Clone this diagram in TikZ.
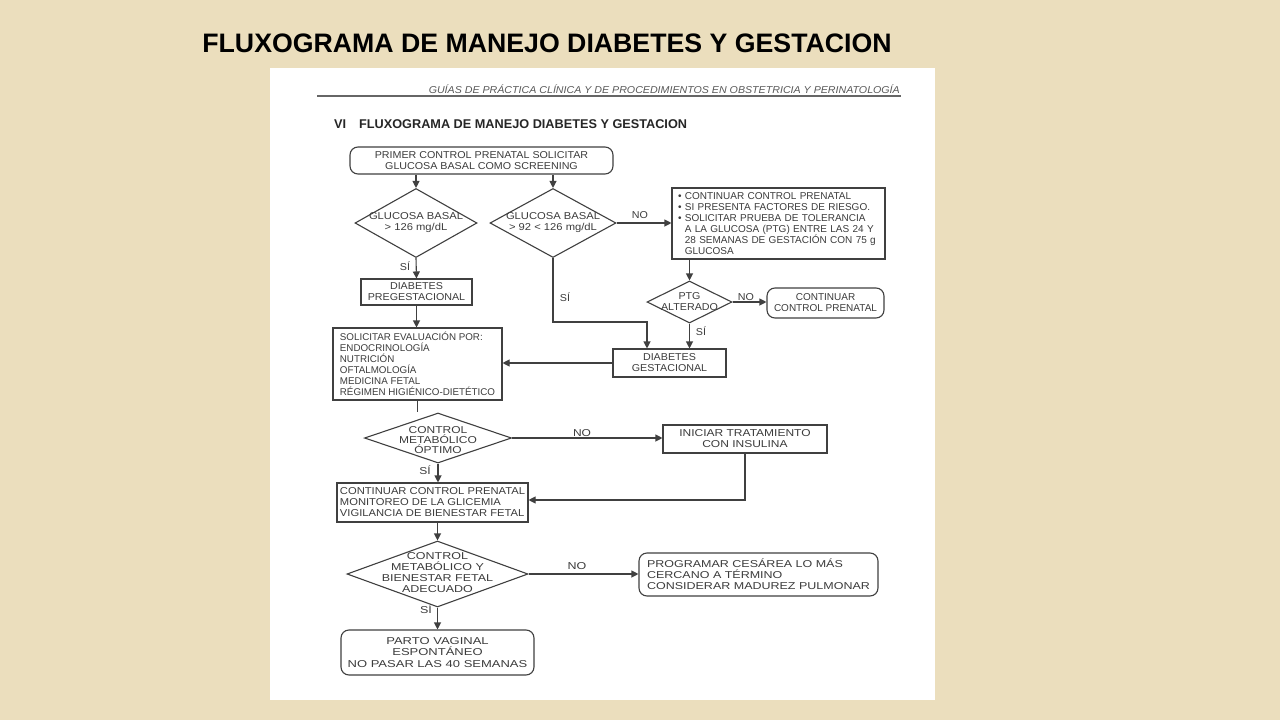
\documentclass[tikz,border=0pt]{standalone}
\usepackage{fontspec}
\setmainfont{Liberation Sans}
\newfontfamily\fsA[FakeStretch=1.07]{Liberation Sans}
\newfontfamily\fsB[FakeStretch=1.12]{Liberation Sans}
\newfontfamily\fsC[FakeStretch=1.2]{Liberation Sans}
\newfontfamily\fsD[FakeStretch=1.25]{Liberation Sans}
\newfontfamily\fsE[FakeStretch=1.3]{Liberation Sans}
\newfontfamily\fsH[FakeStretch=1.065]{Liberation Sans}
\usetikzlibrary{shapes.geometric,arrows.meta}
\definecolor{parch}{RGB}{235,222,189}
\definecolor{ink}{RGB}{60,60,60}
\definecolor{lin}{RGB}{64,64,64}
\tikzset{
  every node/.style={text=ink},
  txt/.style={font=\fontsize{10}{11}\selectfont},
  box/.style={txt, draw=lin, line width=1.1pt, rectangle, inner sep=0pt, align=center},
  rbox/.style={box, rounded corners=8pt},
  dia/.style={draw=lin, line width=1.1pt, shape=diamond, inner sep=0pt},
  dtxt/.style={txt, align=center},
  conn/.style={draw=lin, line width=1.1pt},
  arr/.style={conn, -{Triangle[length=7pt,width=7pt]}},
  lab/.style={txt, inner sep=0pt},
  wA/.style={font=\fsA\fontsize{10}{11}\selectfont},
  wB/.style={font=\fsB\fontsize{10}{11}\selectfont},
  wC/.style={font=\fsC\fontsize{10}{11}\selectfont},
  wD/.style={font=\fsD\fontsize{10}{11}\selectfont},
  wE/.style={font=\fsE\fontsize{10}{11.5}\selectfont},
}
\begin{document}
\begin{tikzpicture}[x=1pt,y=-1pt]
\useasboundingbox (0,0) rectangle (1280,720);
\fill[parch] (0,0) rectangle (1280,720);
\fill[white] (270,68) rectangle (935,700);

% titles
\node[font=\fontsize{26.7}{30}\selectfont\bfseries, text=black] (title) at (547,43) {FLUXOGRAMA DE MANEJO DIABETES Y GESTACION};
\node[font=\fsH\fontsize{10}{11}\selectfont\itshape, text=black!65, anchor=base east, inner sep=0pt] (hdr) at (900,93) {GUÍAS DE PRÁCTICA CLÍNICA Y DE PROCEDIMIENTOS EN OBSTETRICIA Y PERINATOLOGÍA};
\coordinate (hl1) at (317,96);
\coordinate (hl2) at (901,96);
\draw[black!60, line width=1.1pt] (hl1) -- (hl2);
\node[font=\fontsize{12.7}{14}\selectfont\bfseries, text=black!85, anchor=west, inner sep=0pt] (vi) at (334,124) {VI};
\node[font=\fontsize{12.7}{14}\selectfont\bfseries, text=black!85, anchor=west, inner sep=0pt] (vit) at (359,124) {FLUXOGRAMA DE MANEJO DIABETES Y GESTACION};

% nodes
\node[rbox, wA, minimum width=263pt, minimum height=27pt] (start) at (481.5,160.5) {PRIMER CONTROL PRENATAL SOLICITAR\\GLUCOSA BASAL COMO SCREENING};

\node[dia, minimum width=122pt, minimum height=69pt] (d1) at (416,223) {};
\node[dtxt, wB] (d1t) at (d1.center) {GLUCOSA BASAL\\> 126 mg/dL};
\node[dia, minimum width=126pt, minimum height=69pt] (d2) at (553,223) {};
\node[dtxt, wB] (d2t) at (d2.center) {GLUCOSA BASAL\\> 92 < 126 mg/dL};

\node[box, wA, minimum width=111pt, minimum height=26pt] (preg) at (416.5,292) {DIABETES\\PREGESTACIONAL};

\node[box, minimum width=213pt, minimum height=71pt, text width=201pt, align=left, inner xsep=6pt] (bul) at (778.5,223.5) {%
\textbullet\ CONTINUAR CONTROL PRENATAL\\
\textbullet\ SI PRESENTA FACTORES DE RIESGO.\\
\textbullet\ SOLICITAR PRUEBA DE TOLERANCIA\\
\phantom{\textbullet\ }A LA GLUCOSA (PTG) ENTRE LAS 24 Y\\
\phantom{\textbullet\ }28 SEMANAS DE GESTACIÓN CON 75 g\\
\phantom{\textbullet\ }GLUCOSA};

\node[dia, minimum width=85pt, minimum height=42pt] (ptg) at (689.5,302) {};
\node[dtxt, wA] (ptgt) at (ptg.center) {PTG\\ALTERADO};

\node[rbox, minimum width=117pt, minimum height=30pt] (cont2) at (825.5,303) {CONTINUAR\\CONTROL PRENATAL};

\node[box, wA, minimum width=113pt, minimum height=28pt] (gest) at (669.5,363) {DIABETES\\GESTACIONAL};

\node[box, font=\fontsize{9.8}{11}\selectfont, minimum width=169pt, minimum height=72pt, align=left] (eval) at (417.5,364) {%
SOLICITAR EVALUACIÓN POR:\\
ENDOCRINOLOGÍA\\
NUTRICIÓN\\
OFTALMOLOGÍA\\
MEDICINA FETAL\\
RÉGIMEN HIGIÉNICO-DIETÉTICO};

\node[dia, minimum width=147pt, minimum height=50pt] (d3) at (438,438) {};
\node[dtxt, font=\fsC\fontsize{10}{10}\selectfont] (d3t) at ([yshift=-2pt]d3.center) {CONTROL\\METABÓLICO\\ÓPTIMO};

\node[box, wC, minimum width=164pt, minimum height=28pt] (ins) at (745,439) {INICIAR TRATAMIENTO\\CON INSULINA};

\node[box, wB, minimum width=191pt, minimum height=39pt, align=left] (cont3) at (432.5,502.5) {%
CONTINUAR CONTROL PRENATAL\\
MONITOREO DE LA GLICEMIA\\
VIGILANCIA DE BIENESTAR FETAL};

\node[dia, minimum width=181pt, minimum height=66pt] (d4) at (437.5,574) {};
\node[dtxt, wD] (d4t) at ([yshift=1pt]d4.center) {CONTROL\\METABÓLICO Y\\BIENESTAR FETAL\\ADECUADO};

\node[rbox, wD, minimum width=239pt, minimum height=43pt, align=left] (ces) at (758.5,574.5) {%
PROGRAMAR CESÁREA LO MÁS\\
CERCANO A TÉRMINO\\
CONSIDERAR MADUREZ PULMONAR};

\node[rbox, wE, minimum width=193pt, minimum height=45pt] (parto) at (437.5,652.5) {PARTO VAGINAL\\ESPONTÁNEO\\NO PASAR LAS 40 SEMANAS};

% connectors
\draw[arr] (start.south -| d1.north) -- (d1.north);
\draw[arr] (start.south -| d2.north) -- (d2.north);
\draw[arr] (d1.south) -- (preg.north);
\draw[arr] (d2.east) -- (d2.east -| bul.west);
\coordinate (k1) at (647,322);
\draw[arr] (d2.south) -- (d2.south |- k1) -- (k1) -- (k1 |- gest.north);
\draw[arr] (bul.south -| ptg.north) -- (ptg.north);
\draw[arr] (ptg.east) -- (ptg.east -| cont2.west);
\draw[arr] (ptg.south) -- (ptg.south |- gest.north);
\draw[arr] (preg.south) -- (preg.south |- eval.north);
\draw[arr] (gest.west) -- (gest.west -| eval.east);
\coordinate (e1) at (417.5,412);
\draw[conn] (eval.south) -- (e1);
\draw[arr] (d3.east) -- (d3.east -| ins.west);
\draw[arr] (d3.south) -- (d3.south |- cont3.north);
\coordinate (k2) at (745,500);
\draw[arr] (ins.south) -- (k2) -- (k2 -| cont3.east);
\draw[arr] (cont3.south -| d4.north) -- (d4.north);
\draw[arr] (d4.east) -- (d4.east -| ces.west);
\draw[arr] (d4.south) -- (parto.north);

% labels
\node[lab, wA] (s1) at (405,266) {SÍ};
\node[lab, wA] (s2) at (565,297) {SÍ};
\node[lab, wA] (s3) at (701,331) {SÍ};
\node[lab, wC] (s4) at (425,470) {SÍ};
\node[lab, wD] (s5) at (426,609) {SÍ};
\node[lab, wA] (n1) at (640,215) {NO};
\node[lab, wA] (n2) at (746,297) {NO};
\node[lab, wC] (n3) at (582,433) {NO};
\node[lab, wD] (n4) at (577,566) {NO};
\end{tikzpicture}
\end{document}
